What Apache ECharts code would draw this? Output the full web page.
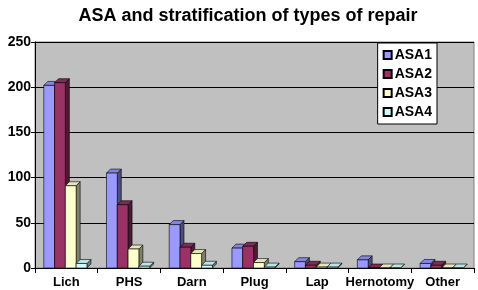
<!DOCTYPE html>
<html>
<head>
<meta charset="utf-8">
<script src="https://cdn.jsdelivr.net/npm/echarts@6/dist/echarts.min.js"></script>
<style>
  html, body { margin: 0; padding: 0; background: #fff; }
  #main { width: 478px; height: 290px; }
</style>
</head>
<body>
<div id="main"></div>
<script>
var categories = ['Lich', 'PHS', 'Darn', 'Plug', 'Lap', 'Hernotomy', 'Other'];
var seriesNames = ['ASA1', 'ASA2', 'ASA3', 'ASA4'];
var asa1 = [202, 105, 48, 22, 7, 9, 5];
var asa2 = [205, 70, 23, 24, 3, 0, 3];
var asa3 = [91, 21, 16, 6, 1, 0, 0];
var asa4 = [5, 2, 3, 1, 1, 0, 0];
var yTicks = [0, 50, 100, 150, 200, 250];

var allData = [asa1, asa2, asa3, asa4];
var fronts = ['#9999FF', '#993366', '#FFFFCC', '#CCFFFF'];
var sides = ['#4D4D80', '#4D1A33', '#808066', '#668080'];
var tops = ['#8585E0', '#802B55', '#E6E6B8', '#B8E6E6'];

var myChart = echarts.init(document.getElementById('main'));

// 3D-looking bar: side face, top face, then front face
function makeRender(si) {
    return function (params, api) {
        var cat = api.value(0);
        var val = api.value(1);
        var base = api.coord([cat, 0]);
        var top = api.coord([cat, val]);
        var bandW = api.size([1, 0])[0];
        var barW = bandW * 0.172;
        var x = base[0] - barW * 2 + si * barW - 1;
        var d = 4;
        var y0 = base[1];
        var y1 = top[1];
        return {
            type: 'group',
            children: [
                {
                    type: 'polygon',
                    shape: { points: [[x + barW, y1], [x + barW + d, y1 - d], [x + barW + d, y0 - d], [x + barW, y0]] },
                    style: { fill: sides[si], stroke: '#000', lineWidth: 0.6 }
                },
                {
                    type: 'polygon',
                    shape: { points: [[x, y1], [x + d, y1 - d], [x + barW + d, y1 - d], [x + barW, y1]] },
                    style: { fill: tops[si], stroke: '#000', lineWidth: 0.6 }
                },
                {
                    type: 'rect',
                    shape: { x: x, y: y1, width: barW, height: y0 - y1 },
                    style: { fill: fronts[si], stroke: '#000', lineWidth: 0.6 }
                }
            ]
        };
    };
}

var series = [];
for (var i = 0; i < seriesNames.length; i++) {
    var pts = [];
    for (var j = 0; j < categories.length; j++) {
        pts.push([j, allData[i][j]]);
    }
    series.push({
        name: seriesNames[i],
        type: 'custom',
        renderItem: makeRender(i),
        itemStyle: { color: fronts[i], borderColor: '#000', borderWidth: 1 },
        encode: { x: 0, y: 1 },
        data: pts
    });
}

var option = {
    animation: false,
    title: {
        text: 'ASA and stratification of types of repair',
        left: 243,
        textAlign: 'center',
        top: 2,
        textStyle: { fontFamily: 'Liberation Sans', fontSize: 18, fontWeight: 'bold', color: '#000' }
    },
    legend: {
        orient: 'vertical',
        right: 41,
        top: 43,
        icon: 'rect',
        itemWidth: 8,
        itemHeight: 8,
        itemGap: 5,
        padding: [5, 5, 5, 5],
        backgroundColor: '#fff',
        borderColor: '#000',
        borderWidth: 1,
        borderRadius: 0,
        textStyle: { fontFamily: 'Liberation Sans', fontSize: 14, fontWeight: 'bold', color: '#000', padding: [0, 0, 0, -2] },
        data: seriesNames
    },
    grid: {
        left: 35,
        right: 4,
        top: 42,
        bottom: 22,
        show: true,
        backgroundColor: '#C0C0C0',
        borderColor: '#808080',
        borderWidth: 1
    },
    xAxis: {
        type: 'category',
        data: categories,
        axisLine: { lineStyle: { color: '#000' } },
        axisTick: { show: true, lineStyle: { color: '#000' } },
        axisLabel: { interval: 0, fontFamily: 'Liberation Sans', fontSize: 13, fontWeight: 'bold', color: '#000', margin: 8 }
    },
    yAxis: {
        type: 'value',
        min: yTicks[0],
        max: yTicks[yTicks.length - 1],
        interval: 50,
        axisLine: { show: true, lineStyle: { color: '#000' } },
        axisTick: { show: true, length: 4, lineStyle: { color: '#000' } },
        splitLine: { lineStyle: { color: '#000', width: 1 } },
        axisLabel: { fontFamily: 'Liberation Sans', fontSize: 14, fontWeight: 'bold', color: '#000', margin: 4 }
    },
    series: series
};

myChart.setOption(option);
</script>
</body>
</html>
